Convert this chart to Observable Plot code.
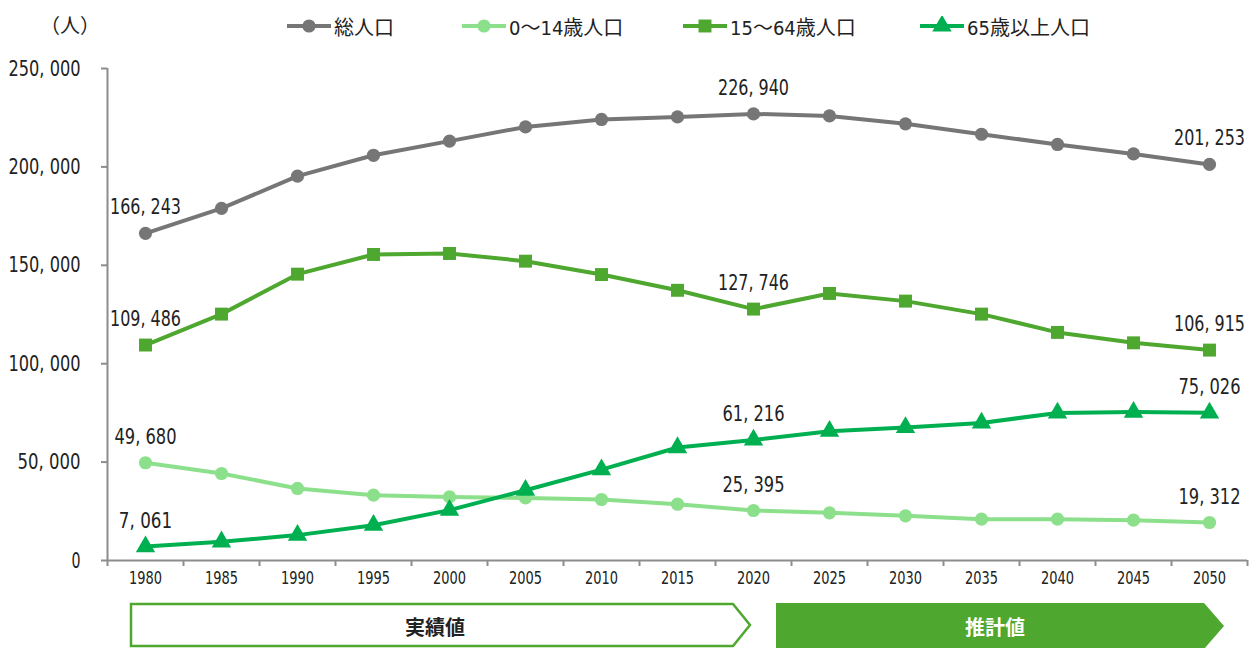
<!DOCTYPE html>
<html><head><meta charset="utf-8">
<script src="https://cdn.jsdelivr.net/npm/d3@7"></script>
<script src="https://cdn.jsdelivr.net/npm/@observablehq/plot@0.6"></script>
<style>
body{margin:0;background:#fff;font-family:"Liberation Sans Narrow","DejaVu Sans Condensed","Noto Sans CJK JP",sans-serif;color:#222;}
#wrap{position:relative;width:1251px;height:648px;overflow:hidden;background:#fff;}
#unit{position:absolute;left:40px;top:10px;font-size:20px;line-height:30px;font-family:"Noto Sans CJK JP",sans-serif;}
.leg{position:absolute;top:11px;height:30px;display:flex;align-items:center;font-size:20px;white-space:nowrap;}
.leg svg{margin-right:3px;}
#chart{position:absolute;left:0;top:50px;}
#arrows{position:absolute;left:0;top:0;}
</style></head><body>
<div id="wrap">
  <div id="unit">（人）</div>
  <div id="legend"></div>
  <svg id="arrows" width="1251" height="648"></svg>
  <div id="chart"></div>
</div>
<script>
// ---- data ----
const years = [1980,1985,1990,1995,2000,2005,2010,2015,2020,2025,2030,2035,2040,2045,2050];
const seriesNames = ["総人口","0～14歳人口","15～64歳人口","65歳以上人口"];
const totalPop  = [166243,178900,195300,205900,213100,220300,224100,225400,226940,225900,221900,216600,211400,206600,201253];
const pop0_14   = [49680,44200,36600,33200,32300,31800,31000,28600,25395,24200,22700,21000,21000,20500,19312];
const pop15_64  = [109486,125200,145500,155500,156000,152100,145300,137300,127746,135700,131800,125200,115900,110600,106915];
const pop65     = [7061,9500,12900,17900,25600,35700,46200,57400,61216,65700,67600,69900,75000,75400,75026];
const yTicks = [0,50000,100000,150000,200000,250000];
const labelYears = [1980,2020,2050];
const periodLabels = ["実績値","推計値"];

const colors = ["#767676","#8CE08C","#4EA72E","#00B050"];
const symbols = ["circle","circle","square","triangle"];
const radii = [6.6,6.6,7.3,7.2];
const values = [totalPop,pop0_14,pop15_64,pop65];

const rows = [];
seriesNames.forEach((s,i)=>years.forEach((yr,j)=>rows.push({series:s, idx:i, year:yr, value:values[i][j]})));

const fmt = v => d3.format(",")(v).replace(/,/g, ", ");
const grey = "#8c8c8c";
const half = (years[1]-years[0])/2;
const xDomain = [years[0]-half, years[years.length-1]+half];
const bounds = years.map(y=>y-half).concat([years[years.length-1]+half]);

const marks = [
  Plot.ruleY([0], {stroke:grey, strokeWidth:2}),
  Plot.ruleX([xDomain[0]], {stroke:grey, strokeWidth:2}),
  Plot.axisY({ticks:yTicks, tickSize:6, tickPadding:21, tickFormat:fmt, fontSize:22, stroke:grey, strokeWidth:2, fill:"#222", label:null, className:"numY"}),
  Plot.axisX({ticks:bounds, tickSize:6, tickFormat:()=>"", stroke:grey, strokeWidth:2, label:null}),
  Plot.axisX({ticks:years, tickSize:0, tickPadding:11, tickFormat:d=>String(d), fontSize:18, fill:"#222", label:null, className:"numX"})
];
seriesNames.forEach((s,i)=>{
  const d = rows.filter(r=>r.idx===i);
  marks.push(Plot.line(d, {x:"year", y:"value", stroke:colors[i], strokeWidth:4}));
});
seriesNames.forEach((s,i)=>{
  const d = rows.filter(r=>r.idx===i);
  marks.push(Plot.dot(d, {x:"year", y:"value", fill:colors[i], symbol:symbols[i], r:radii[i], stroke:"none"}));
});
marks.push(Plot.text(rows.filter(r=>labelYears.includes(r.year)), {x:"year", y:"value", text:d=>fmt(d.value), dy:-26, fontSize:22, fill:"#222", textAnchor:"middle", className:"numL"}));

const chart = Plot.plot({
  width:1251, height:550,
  marginTop:18, marginBottom:40, marginLeft:107, marginRight:4,
  style:{fontFamily:'"Liberation Sans Narrow","DejaVu Sans Condensed","Noto Sans CJK JP",sans-serif', color:"#222", background:"#fff", overflow:"visible"},
  x:{type:"linear", domain:xDomain, axis:null},
  y:{domain:[0,250000], axis:null},
  marks
});
document.getElementById("chart").appendChild(chart);

// condense numeric texts horizontally (reference uses a narrow typeface)
function condense(selector, targetPerChar){
  chart.querySelectorAll(selector + " text").forEach(t=>{
    const w = t.getComputedTextLength ? t.getComputedTextLength() : 0;
    if (!w) return;
    const n = t.textContent.length;
    const target = targetPerChar*n;
    if (target < w){
      t.setAttribute("textLength", target.toFixed(1));
      t.setAttribute("lengthAdjust", "spacingAndGlyphs");
    }
  });
}
condense(".numY", 72/8);
condense(".numL", 71/8);
condense(".numX", 33/4);

// ---- legend ----
const legendLeft = [287,462,683,920];
const legend = d3.select("#legend");
seriesNames.forEach((s,i)=>{
  const item = legend.append("div").attr("class","leg").style("left", legendLeft[i]+"px");
  const sv = item.append("svg").attr("width",44).attr("height",20);
  sv.append("line").attr("x1",0).attr("x2",44).attr("y1",10).attr("y2",10).attr("stroke",colors[i]).attr("stroke-width",4);
  const sym = {circle:d3.symbolCircle, square:d3.symbolSquare, triangle:d3.symbolTriangle}[symbols[i]];
  sv.append("path").attr("transform","translate(22,10)").attr("d", d3.symbol(sym, Math.PI*radii[i]*radii[i])()).attr("fill",colors[i]);
  item.append("span").text(s);
});

// ---- period arrows ----
const ar = d3.select("#arrows");
ar.append("polygon").attr("points","131,604 733,604 750,625 733,646 131,646")
  .attr("fill","#fff").attr("stroke","#4EA72E").attr("stroke-width",2.5);
ar.append("polygon").attr("points","776,603 1204,603 1224,626 1204,649 776,649").attr("fill","#4EA72E");
ar.append("text").attr("x",435).attr("y",626).attr("text-anchor","middle").attr("dominant-baseline","central")
  .attr("font-size",20).attr("font-weight","bold").attr("font-family",'"Noto Sans CJK JP",sans-serif').attr("fill","#222").text(periodLabels[0]);
ar.append("text").attr("x",995).attr("y",626).attr("text-anchor","middle").attr("dominant-baseline","central")
  .attr("font-size",20).attr("font-weight","bold").attr("font-family",'"Noto Sans CJK JP",sans-serif').attr("fill","#fff").text(periodLabels[1]);
</script>
</body></html>
